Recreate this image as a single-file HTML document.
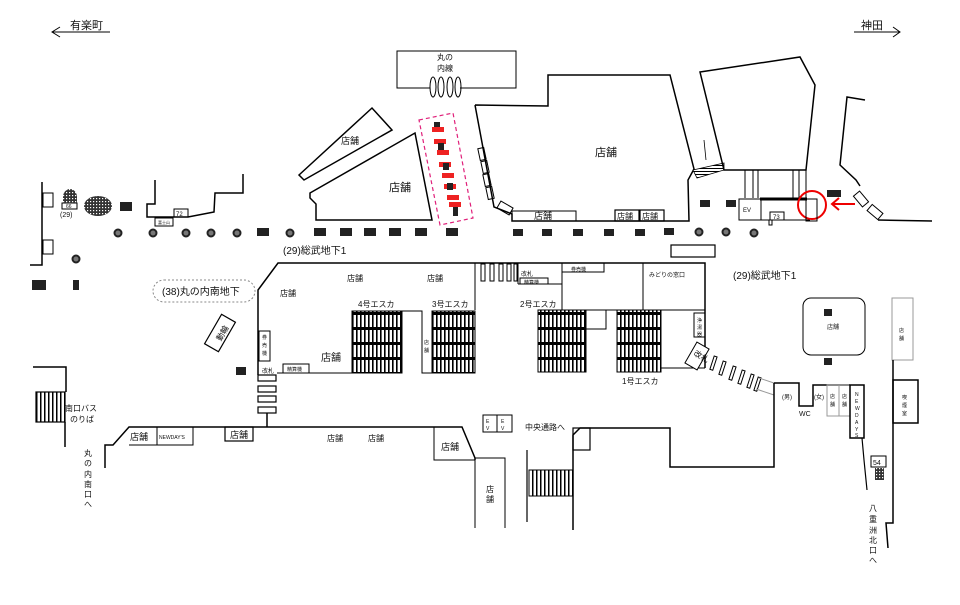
<!DOCTYPE html>
<html><head><meta charset="utf-8"><style>
html,body{margin:0;padding:0;background:#fff;width:960px;height:605px;overflow:hidden}
svg{display:block;font-family:"Liberation Sans","Noto Sans CJK JP",sans-serif}
text{fill:#111}
</style></head><body>
<svg width="960" height="605" viewBox="0 0 960 605" xmlns="http://www.w3.org/2000/svg">
<defs>
<pattern id="esc" width="4" height="15" patternUnits="userSpaceOnUse">
<rect width="4" height="15" fill="#fff"/><rect x="0" width="1.6" height="15" fill="#000"/><rect y="12" width="4" height="3" fill="#000"/>
</pattern>
<pattern id="stair" width="4" height="4" patternUnits="userSpaceOnUse"><rect width="4" height="4" fill="#fff"/><rect width="1.5" height="4" fill="#000"/></pattern>
<pattern id="hatch" width="3" height="3" patternUnits="userSpaceOnUse"><rect width="3" height="3" fill="#333"/><rect width="1.2" height="1.2" fill="#fff"/></pattern>
<pattern id="hstair" width="4" height="3" patternUnits="userSpaceOnUse"><rect width="4" height="3" fill="#fff"/><rect width="4" height="1" fill="#000"/></pattern>
</defs>
<g fill="none" stroke="#000" stroke-width="1.5">
<line x1="52" y1="32" x2="110" y2="32" stroke-width="1"/><polyline points="60,27 52,32 60,37" stroke-width="1"/>
<line x1="854" y1="32" x2="900" y2="32" stroke-width="1"/><polyline points="893,27 900,32 893,37" stroke-width="1"/>
<polyline points="430,88 397,88 397,51 516,51 516,88 460,88" stroke-width="1"/>
<ellipse cx="433" cy="87" rx="3" ry="10" stroke-width="1"/><ellipse cx="441" cy="87" rx="3" ry="10" stroke-width="1"/><ellipse cx="450" cy="87" rx="3" ry="10" stroke-width="1"/><ellipse cx="458" cy="87" rx="3" ry="10" stroke-width="1"/>
<polyline points="42,182 42,265 30,265"/>
<polyline points="155,180 155,204 147,204 147,217 188,217 214,212 215,193 243,193 243,174"/>
<polygon points="299,175 372,108 392,130 304,180"/>
<polygon points="310,193 415,133 432,220 316,220 316,204 310,198"/>
<polyline points="475,105 548,106 548,75 670,75 694,169 688,180 689,221 512,221 512,214 494,207 475,105"/>
<polygon points="693,170 724,163 724,170 697,178" fill="url(#hstair)" stroke-width="0.8"/>
<line x1="706" y1="160" x2="704" y2="140" stroke-width="0.8"/>
<polygon points="700,72 800,57 815,85 806,170 724,170"/>
<line x1="745" y1="170" x2="745" y2="198" stroke-width="1"/><line x1="753" y1="170" x2="753" y2="198" stroke-width="1"/><line x1="758" y1="170" x2="758" y2="198" stroke-width="1"/>
<line x1="793" y1="170" x2="793" y2="198" stroke-width="1"/><line x1="799" y1="170" x2="799" y2="198" stroke-width="1"/><line x1="806" y1="170" x2="806" y2="198" stroke-width="1"/>
<rect x="739" y="199" width="22" height="21" stroke-width="1"/>
<line x1="760" y1="199" x2="807" y2="199" stroke-width="3"/>
<polyline points="761,199 761,220 769,220 769,225 772,225 772,220 810,220" stroke-width="1"/>
<rect x="770" y="212" width="14" height="8" stroke-width="1"/>
<polyline points="865,100 847,97 840,165 856,180 860,186"/>
<polyline points="878,220 932,221"/>
<polyline points="258,375 258,290 278,263 705,263 705,368"/>
<line x1="475" y1="263" x2="475" y2="310" stroke-width="1"/>
<line x1="518" y1="263" x2="518" y2="284" stroke-width="1"/>
<polyline points="518,284 562,284" stroke-width="1"/>
<line x1="562" y1="263" x2="562" y2="310" stroke-width="1"/>
<line x1="643" y1="263" x2="643" y2="310" stroke-width="1"/>
<line x1="562" y1="310" x2="705" y2="310" stroke-width="1"/>
<line x1="277" y1="373" x2="352" y2="373" stroke-width="1"/>
<polyline points="402,311 422,311 422,373 432,373" stroke-width="1"/>
<polyline points="586,310 606,310 606,329 586,329" stroke-width="1"/>
<polyline points="661,368 705,368" stroke-width="1"/>
<rect x="694" y="313" width="11" height="24" stroke-width="1"/>
<rect x="562" y="263" width="42" height="9" stroke-width="1"/>
<rect x="520" y="278" width="28" height="6" stroke-width="1"/>
<rect x="283" y="364" width="26" height="9" stroke-width="1"/>
<rect x="259" y="331" width="11" height="30" stroke-width="1"/>
<rect x="481" y="264" width="4" height="17" stroke-width="1"/><rect x="490" y="264" width="4" height="17" stroke-width="1"/><rect x="499" y="264" width="4" height="17" stroke-width="1"/><rect x="507" y="264" width="4" height="17" stroke-width="1"/><rect x="514" y="264" width="3" height="17" stroke-width="1"/>
<rect x="258" y="375" width="18" height="6" stroke-width="1.2"/><rect x="258" y="386" width="18" height="6" stroke-width="1.2"/><rect x="258" y="396" width="18" height="6" stroke-width="1.2"/><rect x="258" y="407" width="18" height="6" stroke-width="1.2"/>
<line x1="267" y1="413" x2="267" y2="427"/>
<rect x="352" y="311" width="50" height="62" fill="url(#esc)" stroke-width="1"/>
<rect x="432" y="311" width="43" height="62" fill="url(#esc)" stroke-width="1"/>
<rect x="538" y="310" width="48" height="62" fill="url(#esc)" stroke-width="1"/>
<rect x="617" y="310" width="44" height="62" fill="url(#esc)" stroke-width="1"/>
<g transform="translate(697,356) rotate(30)"><rect x="-7" y="-12" width="14" height="24" fill="#fff" stroke-width="1"/></g>
<g stroke-width="1"><rect x="712" y="356" width="3" height="14" transform="rotate(18 713 363)"/><rect x="721" y="361" width="3" height="14" transform="rotate(18 722 368)"/><rect x="731" y="366" width="3" height="14" transform="rotate(18 732 373)"/><rect x="740" y="370" width="3" height="14" transform="rotate(18 741 377)"/><rect x="749" y="374" width="3" height="14" transform="rotate(18 750 381)"/><rect x="756" y="377" width="3" height="14" transform="rotate(18 757 384)"/></g>
<line x1="759" y1="378" x2="774" y2="383" stroke="#999" stroke-width="1"/><line x1="756" y1="389" x2="774" y2="395" stroke="#999" stroke-width="1"/>
<polyline points="774,383 799,383 799,406 813,406 813,385 850,385"/>
<rect x="827" y="385" width="12" height="31" stroke="#999" stroke-width="1"/><rect x="839" y="385" width="11" height="31" stroke="#999" stroke-width="1"/>
<rect x="850" y="385" width="14" height="53"/>
<polyline points="862,438 864,460 867,490" stroke-width="1.2"/>
<polyline points="774,383 774,467 670,467 670,428 580,428 573,435 573,530"/>
<rect x="573" y="428" width="17" height="22" stroke-width="1.2"/>
<line x1="527" y1="450" x2="527" y2="522" stroke-width="1.2"/>
<rect x="529" y="470" width="44" height="26" fill="url(#stair)" stroke-width="1"/>
<polyline points="105,468 105,445 113,445 129,427 462,427 475,458 475,460"/>
<polyline points="129,445 193,445 193,427" stroke-width="1"/>
<line x1="157" y1="427" x2="157" y2="445" stroke-width="1"/>
<rect x="225" y="427" width="28" height="14" stroke-width="1.2"/>
<polyline points="434,427 434,460 475,460" stroke-width="1"/>
<polyline points="475,458 505,458 505,528" stroke-width="1"/>
<line x1="475" y1="458" x2="475" y2="528" stroke-width="1"/>
<rect x="483" y="415" width="14" height="17" stroke-width="1"/><rect x="497" y="415" width="15" height="17" stroke-width="1"/>
<polyline points="33,367 66,367 66,392"/>
<rect x="36" y="392" width="29" height="30" fill="url(#stair)" stroke-width="1.2"/>
<line x1="65" y1="422" x2="65" y2="447"/>
<rect x="892" y="298" width="21" height="62" stroke="#999" stroke-width="1"/>
<polyline points="893,360 893,523 886,523 888,548"/>
<rect x="893" y="380" width="25" height="43"/>
<rect x="803" y="298" width="62" height="57" rx="8" stroke-width="1"/>
<rect x="871" y="456" width="15" height="11" stroke-width="1"/>
<rect x="875" y="468" width="9" height="12" fill="url(#hatch)" stroke="none"/>
<rect x="671" y="245" width="44" height="12" stroke-width="1.2"/>
<rect x="155" y="218" width="18" height="8" stroke-width="1"/><rect x="174" y="209" width="14" height="8" stroke-width="1"/>
<rect x="43" y="193" width="10" height="14" stroke-width="1"/><rect x="43" y="240" width="10" height="14" stroke-width="1"/>
<rect x="62" y="203" width="15" height="6" stroke-width="1"/>
<rect x="153" y="280" width="102" height="22" rx="11" stroke="#888" stroke-width="1" stroke-dasharray="2,2"/>
<g transform="translate(220,333) rotate(-60)"><rect x="-17" y="-8" width="34" height="16" stroke-width="1.2"/></g>
<polygon points="419,120 453,113 473,218 440,225" stroke="#e0207a" stroke-width="1.2" stroke-dasharray="4,3"/>
<circle cx="812" cy="205" r="14" stroke="#e00" stroke-width="2"/>
<line x1="833" y1="204" x2="855" y2="204" stroke="#e00" stroke-width="2"/><polyline points="839,198 832,204 839,210" stroke="#e00" stroke-width="2"/>
<g transform="translate(505,208) rotate(30)"><rect x="-7" y="-4" width="14" height="8" stroke-width="1"/></g>
<g transform="translate(861,199) rotate(50)"><rect x="-7" y="-4" width="14" height="8" stroke-width="1"/></g>
<g transform="translate(875,212) rotate(40)"><rect x="-7" y="-4" width="14" height="8" stroke-width="1"/></g>
<rect x="806" y="199" width="11" height="22" stroke-width="1"/>
<rect x="512" y="211" width="64" height="10" stroke-width="1"/><rect x="615" y="210" width="24" height="11" stroke-width="1.2"/><rect x="640" y="210" width="24" height="11" stroke-width="1.2"/>
<g stroke-width="1"><rect x="479" y="148" width="6" height="12" transform="rotate(-12 482 154)"/><rect x="482" y="161" width="6" height="12" transform="rotate(-12 485 167)"/><rect x="484" y="174" width="6" height="12" transform="rotate(-12 487 180)"/><rect x="487" y="187" width="6" height="12" transform="rotate(-12 490 193)"/></g>
</g>
<g fill="#111">
<path d="M63,203 v-6 a7,8 0 0 1 14,0 v6 z" fill="url(#hatch)"/>
<ellipse cx="98" cy="206" rx="14" ry="10" fill="url(#hatch)"/>
<g fill="#222"><rect x="120" y="202" width="12" height="9"/><rect x="32" y="280" width="14" height="10"/><rect x="73" y="280" width="6" height="10"/><rect x="236" y="367" width="10" height="8"/><rect x="824" y="309" width="8" height="7"/><rect x="824" y="358" width="8" height="7"/><rect x="700" y="200" width="10" height="7"/><rect x="726" y="200" width="10" height="7"/><rect x="827" y="190" width="14" height="7"/></g>
<g fill="#222"><rect x="257" y="228" width="12" height="8"/><rect x="314" y="228" width="12" height="8"/><rect x="340" y="228" width="12" height="8"/><rect x="364" y="228" width="12" height="8"/><rect x="389" y="228" width="12" height="8"/><rect x="415" y="228" width="12" height="8"/><rect x="446" y="228" width="12" height="8"/><rect x="513" y="229" width="10" height="7"/><rect x="542" y="229" width="10" height="7"/><rect x="573" y="229" width="10" height="7"/><rect x="604" y="229" width="10" height="7"/><rect x="635" y="229" width="10" height="7"/><rect x="664" y="228" width="10" height="7"/></g>
<g fill="#777" stroke="#222" stroke-width="2"><circle cx="118" cy="233" r="3.5"/><circle cx="153" cy="233" r="3.5"/><circle cx="186" cy="233" r="3.5"/><circle cx="211" cy="233" r="3.5"/><circle cx="237" cy="233" r="3.5"/><circle cx="290" cy="233" r="3.5"/><circle cx="699" cy="232" r="3.5"/><circle cx="726" cy="232" r="3.5"/><circle cx="754" cy="233" r="3.5"/><circle cx="76" cy="259" r="3.5"/></g>
<g fill="#e22"><rect x="432" y="127" width="12" height="5"/><rect x="434" y="139" width="12" height="5"/><rect x="437" y="150" width="12" height="5"/><rect x="439" y="162" width="12" height="5"/><rect x="442" y="173" width="12" height="5"/><rect x="444" y="184" width="12" height="5"/><rect x="447" y="195" width="12" height="5"/><rect x="449" y="202" width="12" height="5"/></g>
<g fill="#222"><rect x="434" y="122" width="6" height="5"/><rect x="438" y="143" width="6" height="7"/><rect x="443" y="163" width="6" height="7"/><rect x="447" y="183" width="6" height="7"/><rect x="453" y="207" width="5" height="9"/></g>
</g>
<g font-size="11">
<text x="70" y="29">有楽町</text><text x="861" y="29">神田</text>
<text x="437" y="60" font-size="8">丸の</text><text x="437" y="71" font-size="8">内線</text>
<text x="341" y="144" font-size="9">店舗</text><text x="389" y="191">店舗</text><text x="595" y="156">店舗</text>
<text x="534" y="219" font-size="9">店舗</text><text x="617" y="219" font-size="8">店舗</text><text x="642" y="219" font-size="8">店舗</text>
<text x="743" y="212" font-size="6">EV</text><text x="773" y="219" font-size="6">73</text>
<text x="283" y="254" font-size="10">(29)総武地下1</text><text x="733" y="279" font-size="10">(29)総武地下1</text>
<text x="162" y="295" font-size="10">(38)丸の内南地下</text>
<text x="347" y="281" font-size="8">店舗</text><text x="427" y="281" font-size="8">店舗</text><text x="280" y="296" font-size="8">店舗</text><text x="321" y="361" font-size="10">店舗</text>
<text x="358" y="307" font-size="8">4号エスカ</text><text x="432" y="307" font-size="8">3号エスカ</text><text x="520" y="307" font-size="8">2号エスカ</text><text x="622" y="384" font-size="8">1号エスカ</text>
<text x="521" y="276" font-size="6">改札</text><text x="649" y="277" font-size="6">みどりの窓口</text><text x="571" y="271" font-size="5">券売機</text><text x="524" y="284" font-size="5">精算機</text>
<text x="262" y="373" font-size="6">改札</text><text x="287" y="371" font-size="5">精算機</text>
<text x="262" y="339" font-size="5">券</text><text x="262" y="347" font-size="5">売</text><text x="262" y="355" font-size="5">機</text>
<text x="424" y="344" font-size="5">店</text><text x="424" y="352" font-size="5">舗</text>
<text x="697" y="322" font-size="5">浄</text><text x="697" y="329" font-size="5">湯</text><text x="697" y="336" font-size="5">器</text>
<text x="693" y="357" font-size="8" transform="rotate(30 697 356)">改札</text>
<text x="213" y="338" font-size="8" transform="rotate(-60 220 333)">動輪</text>
<text x="65" y="411" font-size="8">南口バス</text><text x="70" y="422" font-size="8">のりば</text>
<g font-size="8"><text x="84" y="456">丸</text><text x="84" y="466">の</text><text x="84" y="477">内</text><text x="84" y="487">南</text><text x="84" y="497">口</text><text x="84" y="507">へ</text></g>
<text x="130" y="440" font-size="9">店舗</text><text x="159" y="439" font-size="5">NEWDAY'S</text><text x="230" y="438" font-size="9">店舗</text>
<text x="327" y="441" font-size="8">店舗</text><text x="368" y="441" font-size="8">店舗</text><text x="441" y="450" font-size="9">店舗</text>
<text x="486" y="492" font-size="8">店</text><text x="486" y="502" font-size="8">舗</text>
<text x="486" y="423" font-size="5">E</text><text x="486" y="430" font-size="5">V</text><text x="501" y="423" font-size="5">E</text><text x="501" y="430" font-size="5">V</text>
<text x="525" y="430" font-size="8">中央通路へ</text>
<text x="782" y="399" font-size="6">(男)</text><text x="814" y="399" font-size="6">(女)</text><text x="799" y="416" font-size="7">WC</text>
<text x="830" y="398" font-size="5">店</text><text x="830" y="406" font-size="5">舗</text><text x="842" y="398" font-size="5">店</text><text x="842" y="406" font-size="5">舗</text>
<g font-size="5"><text x="855" y="396">N</text><text x="855" y="403">E</text><text x="855" y="410">W</text><text x="855" y="417">D</text><text x="855" y="424">A</text><text x="855" y="431">Y</text><text x="855" y="437">S</text></g>
<text x="827" y="329" font-size="6">店舗</text>
<text x="899" y="332" font-size="5">店</text><text x="899" y="340" font-size="5">舗</text>
<text x="902" y="399" font-size="5">喫</text><text x="902" y="407" font-size="5">煙</text><text x="902" y="415" font-size="5">室</text>
<text x="873" y="465" font-size="7">54</text>
<g font-size="8"><text x="869" y="511">八</text><text x="869" y="522">重</text><text x="869" y="533">洲</text><text x="869" y="543">北</text><text x="869" y="553">口</text><text x="869" y="563">へ</text></g>
<text x="60" y="217" font-size="7">(29)</text><text x="66" y="208" font-size="5">66</text>
<text x="158" y="224" font-size="4">富士山</text><text x="176" y="216" font-size="6">72</text>
</g>
</svg>
</body></html>
